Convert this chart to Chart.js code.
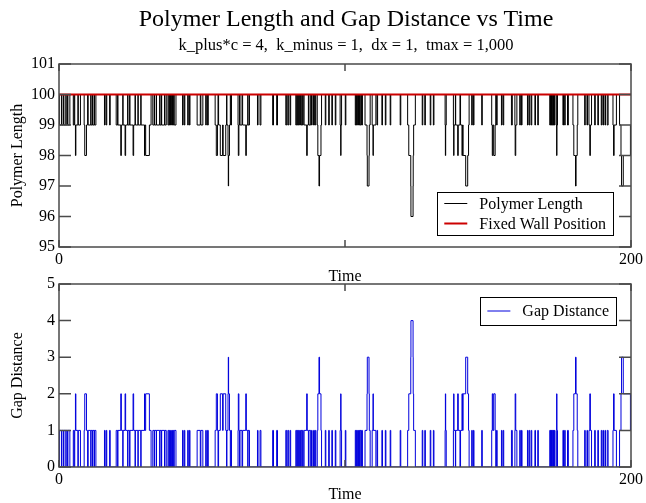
<!DOCTYPE html>
<html><head><meta charset="utf-8">
<script src="https://cdn.jsdelivr.net/npm/chart.js@4"></script>
<style>
html,body{margin:0;padding:0;background:#fff;width:646px;height:503px;overflow:hidden}
body{position:relative;font-family:"Liberation Serif","Times New Roman",Times,serif;color:#000}
#c1{position:absolute;left:0;top:0}
#c2{position:absolute;left:0;top:270px}
.ttl{position:absolute;left:59px;width:574px;text-align:center;white-space:pre}
#title{top:4px;font-size:24px;line-height:28px}
#subtitle{top:35px;font-size:16.5px;line-height:20px}
</style></head><body>
<canvas id="c1" width="646" height="290"></canvas>
<canvas id="c2" width="646" height="236"></canvas>
<div class="ttl" id="title"></div>
<div class="ttl" id="subtitle"></div>
<script>
// ---- data ----
const chartTitle = 'Polymer Length and Gap Distance vs Time';
const chartSubtitle = 'k_plus*c = 4,  k_minus = 1,  dx = 1,  tmax = 1,000';
const eventTimes = [0,0.2,0.9,1.0,1.6,1.7,2.4,2.5,3.0,3.1,3.8,
 5.0,5.3,5.5,5.75,5.9,6.6,6.75,7.5,
 8.8,9.0,9.6,10.0,10.2,11.1,11.2,11.7,11.8,12.3,12.4,12.9,
 15.9,16.1,16.5,16.7,17.7,17.9,
 20.0,20.5,20.6,21.6,21.8,22.3,22.4,23.1,23.3,24.0,24.1,24.7,24.8,25.9,26.1,26.6,26.7,27.6,27.7,28.6,28.7,29.9,30.0,30.3,31.6,32.2,
 32.8,33.3,33.4,34.0,34.1,35.2,35.3,35.8,35.9,36.9,37.0,37.5,
 38.1,38.4,38.6,38.8,39.0,39.3,39.5,39.7,39.9,40.1,40.3,40.9,
 43.2,43.4,43.8,44.0,45.0,45.2,45.6,45.8,
 48.3,49.4,49.6,50.3,51.3,51.5,51.9,52.2,
 54.6,55.0,55.4,55.6,55.8,56.4,57.2,57.4,58.3,58.6,58.7,59.1,59.2,59.3,59.6,59.9,60.1,60.3,
 62.6,62.7,62.9,63.1,63.3,64.0,64.2,65.3,65.5,66.0,66.1,66.6,
 69.4,69.6,70.3,70.6,
 74.7,75.0,76.1,76.4,
 79.3,79.6,80.0,80.3,80.8,81.0,
 82.8,83.1,83.3,83.5,83.7,84.0,84.2,84.4,84.6,84.9,85.1,85.4,85.7,86.6,86.8,87.2,87.4,88.0,88.3,88.5,89.0,89.3,89.6,89.8,
 90.3,90.5,90.9,91.1,91.6,91.8,
 93.1,93.3,94.3,94.5,95.4,95.6,96.6,96.8,
 98.3,98.5,98.6,98.8,
 100.1,100.3,
 103.6,103.8,104.0,104.3,104.5,104.7,104.9,105.1,105.3,105.6,105.8,106.1,
 107.0,107.7,107.8,108.4,108.5,108.8,
 109.5,109.8,109.9,110.8,
 111.2,111.4,112.9,113.1,114.1,114.3,115.8,116.0,119.3,119.5,
 121.9,122.3,123.0,123.05,123.8,123.85,124.0,124.6,
 127.0,127.2,127.9,128.1,
 129.8,130.0,130.9,131.1,
 135.0,135.1,135.2,135.4,
 137.9,138.0,138.1,138.6,
 138.7,139.4,139.6,140.2,
 140.4,140.9,141.1,141.3,142.2,142.9,143.2,143.4,
 144.3,144.5,144.9,145.1,
 147.8,148.0,
 151.3,151.5,151.7,152.0,152.5,152.7,
 153.0,153.2,
 154.7,154.9,155.3,155.5,
 158.2,158.5,
 159.4,159.5,159.7,160.1,
 161.1,161.3,161.7,161.9,
 163.8,164.0,164.4,164.6,165.1,165.3,
 166.4,166.6,167.4,167.6,
 171.6,171.8,171.9,172.1,172.2,172.4,172.5,172.8,172.9,173.1,173.2,173.4,
 173.9,174.0,174.1,174.3,
 176.2,176.4,176.8,177.0,177.8,178.1,
 179.7,180.0,180.6,180.8,181.2,181.4,
 183.8,184.0,184.6,184.8,
 185.3,185.6,185.8,186.2,
 187.3,187.5,188.4,188.6,
 189.6,189.8,190.2,190.4,190.9,191.1,191.7,192.0,
 193.7,193.9,194.1,194.9,
 196.0,196.5,196.7,197.3,199.8,200];
const gapDistance = [0,1,0,1,0,1,0,1,0,1,0,
 1,0,1,2,1,0,1,0,
 1,2,1,0,1,0,1,0,1,0,1,0,
 1,0,1,0,1,0,
 1,0,1,2,1,0,1,2,1,0,1,0,1,2,1,0,1,0,1,0,1,2,1,2,1,0,
 1,0,1,0,1,0,1,0,1,0,1,0,
 1,0,1,0,1,0,1,0,1,0,1,0,
 1,0,1,0,1,0,1,0,
 1,0,1,0,1,0,1,0,
 1,2,1,0,1,2,1,2,1,0,1,2,3,2,1,0,1,0,
 1,2,1,0,1,0,1,2,1,0,1,0,
 1,0,1,0,
 1,0,1,0,
 1,0,1,0,1,0,
 1,0,1,0,1,0,1,0,1,0,1,0,1,2,1,0,1,0,1,0,1,0,1,0,
 1,2,3,2,1,0,
 1,0,1,0,1,0,1,0,
 1,2,1,0,
 1,0,
 1,0,1,0,1,0,1,0,1,0,1,0,
 1,2,3,2,1,0,
 1,2,1,0,
 1,0,1,0,1,0,1,0,1,0,
 1,2,3,4,3,2,1,0,
 1,0,1,0,
 1,0,1,0,
 1,2,1,0,
 1,2,1,0,
 1,2,1,0,
 1,2,1,2,3,2,1,0,
 1,0,1,0,
 1,0,
 1,2,1,2,1,0,
 1,0,
 1,0,1,0,
 1,0,
 1,2,1,0,
 1,0,1,0,
 1,0,1,0,1,0,
 1,0,1,0,
 1,0,1,0,1,0,1,0,1,0,1,0,
 1,2,1,0,
 1,0,1,0,1,0,
 1,2,3,2,1,0,
 1,0,1,0,
 1,2,1,0,
 1,0,1,0,
 1,0,1,0,1,0,1,0,
 1,2,1,0,
 1,2,3,2,1,1];
const polymerLength = [100,99,100,99,100,99,100,99,100,99,100,
 99,100,99,98,99,100,99,100,
 99,98,99,100,99,100,99,100,99,100,99,100,
 99,100,99,100,99,100,
 99,100,99,98,99,100,99,98,99,100,99,100,99,98,99,100,99,100,99,100,99,98,99,98,99,100,
 99,100,99,100,99,100,99,100,99,100,99,100,
 99,100,99,100,99,100,99,100,99,100,99,100,
 99,100,99,100,99,100,99,100,
 99,100,99,100,99,100,99,100,
 99,98,99,100,99,98,99,98,99,100,99,98,97,98,99,100,99,100,
 99,98,99,100,99,100,99,98,99,100,99,100,
 99,100,99,100,
 99,100,99,100,
 99,100,99,100,99,100,
 99,100,99,100,99,100,99,100,99,100,99,100,99,98,99,100,99,100,99,100,99,100,99,100,
 99,98,97,98,99,100,
 99,100,99,100,99,100,99,100,
 99,98,99,100,
 99,100,
 99,100,99,100,99,100,99,100,99,100,99,100,
 99,98,97,98,99,100,
 99,98,99,100,
 99,100,99,100,99,100,99,100,99,100,
 99,98,97,96,97,98,99,100,
 99,100,99,100,
 99,100,99,100,
 99,98,99,100,
 99,98,99,100,
 99,98,99,100,
 99,98,99,98,97,98,99,100,
 99,100,99,100,
 99,100,
 99,98,99,98,99,100,
 99,100,
 99,100,99,100,
 99,100,
 99,98,99,100,
 99,100,99,100,
 99,100,99,100,99,100,
 99,100,99,100,
 99,100,99,100,99,100,99,100,99,100,99,100,
 99,98,99,100,
 99,100,99,100,99,100,
 99,98,97,98,99,100,
 99,100,99,100,
 99,98,99,100,
 99,100,99,100,
 99,100,99,100,99,100,99,100,
 99,98,99,100,
 99,98,97,98,99,99];
const wallTimes = [0, 200];
const wallPosition = [100, 100];
const xTickValues = [0, 100, 200];
const xTickLabels = [0, 200];
const topYTicks = [95, 96, 97, 98, 99, 100, 101];
const bottomYTicks = [0, 1, 2, 3, 4, 5];

// ---- drawing ----
document.getElementById('title').textContent = chartTitle;
document.getElementById('subtitle').textContent = chartSubtitle;

const SERIF = '"Liberation Serif", "Times New Roman", Times, serif';
Chart.defaults.font.family = SERIF;
Chart.defaults.color = '#000';

const pts = (xs, ys) => xs.map((x, i) => ({x, y: ys[i]}));

const framePlugin = {
  id: 'frameTicks',
  afterDatasetsDraw(chart) {
    const {ctx, chartArea: a, scales: {x, y}} = chart;
    ctx.save();
    ctx.strokeStyle = '#4a4a4a';
    ctx.lineWidth = 1.5;
    ctx.beginPath();
    y.ticks.forEach(t => {
      const py = y.getPixelForValue(t.value);
      ctx.moveTo(a.left, py); ctx.lineTo(a.left + 12, py);
      ctx.moveTo(a.right, py); ctx.lineTo(a.right - 12, py);
    });
    x.ticks.forEach(t => {
      const px = x.getPixelForValue(t.value);
      ctx.moveTo(px, a.top); ctx.lineTo(px, a.top + 7);
      ctx.moveTo(px, a.bottom); ctx.lineTo(px, a.bottom - 7);
    });
    ctx.stroke();
    ctx.strokeRect(a.left, a.top, a.width, a.height);
    ctx.restore();
  }
};

const boxLegend = {
  id: 'boxLegend',
  afterDraw(chart, args, o) {
    const {ctx, chartArea: a} = chart;
    const ds = chart.data.datasets;
    ctx.save();
    ctx.font = '16px ' + SERIF;
    let tw = 0;
    ds.forEach(d => tw = Math.max(tw, ctx.measureText(d.label).width));
    const rowH = 20, padX = 7, sample = 23, gapT = 12;
    const w = padX + sample + gapT + tw + padX;
    const h = o.height;
    const padY = (h - ds.length * rowH) / 2;
    const x0 = a.right - o.right - w;
    const y0 = o.top != null ? a.top + o.top : a.bottom - o.bottom - h;
    ctx.fillStyle = '#fff';
    ctx.fillRect(x0, y0, w, h);
    ctx.strokeStyle = '#000';
    ctx.lineWidth = 1;
    ctx.strokeRect(Math.round(x0) + .5, Math.round(y0) + .5, Math.round(w), Math.round(h));
    ds.forEach((d, i) => {
      const cy = y0 + padY + rowH * i + rowH / 2;
      ctx.strokeStyle = d.borderColor;
      ctx.lineWidth = d.borderWidth;
      ctx.beginPath();
      ctx.moveTo(x0 + padX, cy); ctx.lineTo(x0 + padX + sample, cy);
      ctx.stroke();
      ctx.fillStyle = '#000';
      ctx.textBaseline = 'middle';
      ctx.textAlign = 'left';
      ctx.fillText(d.label, x0 + padX + sample + gapT, cy + 1);
    });
    ctx.restore();
  }
};

function xScale(heightFix) {
  return {
    type: 'linear', min: 0, max: 200,
    afterBuildTicks: s => { s.ticks = xTickValues.map(v => ({value: v})); },
    afterFit: s => { s.height = heightFix; },
    ticks: {
      autoSkip: false, maxRotation: 0, padding: 3,
      font: {size: 16},
      callback: v => xTickLabels.includes(v) ? String(v) : ''
    },
    grid: {display: false, drawTicks: false},
    border: {display: false},
    title: {display: true, text: 'Time', font: {size: 16}, padding: {top: 0, bottom: 0}}
  };
}
function yScale(min, max, tickVals, label) {
  return {
    type: 'linear', min, max,
    afterBuildTicks: s => { s.ticks = tickVals.map(v => ({value: v})); },
    afterFit: s => { s.width = 59; },
    ticks: {padding: 4, font: {size: 16}},
    grid: {display: false, drawTicks: false},
    border: {display: false},
    title: {display: true, text: label, font: {size: 16}, padding: {top: 8, bottom: 0}}
  };
}

new Chart(document.getElementById('c1'), {
  type: 'line',
  data: {
    datasets: [
      {label: 'Polymer Length', data: pts(eventTimes, polymerLength), stepped: true,
       borderColor: '#000', borderWidth: 1, pointRadius: 0, order: 2},
      {label: 'Fixed Wall Position', data: pts(wallTimes, wallPosition),
       borderColor: '#cc0000', borderWidth: 2, pointRadius: 0, order: 1}
    ]
  },
  options: {
    responsive: false, animation: false, devicePixelRatio: 1,
    layout: {padding: {left: 0, right: 13, top: 64, bottom: 4}},
    scales: {x: xScale(39), y: yScale(95, 101, topYTicks, 'Polymer Length')},
    plugins: {
      legend: {display: false}, tooltip: {enabled: false},
      boxLegend: {right: 18, bottom: 12, height: 43}
    }
  },
  plugins: [framePlugin, boxLegend]
});

new Chart(document.getElementById('c2'), {
  type: 'line',
  data: {
    datasets: [
      {label: 'Gap Distance', data: pts(eventTimes, gapDistance), stepped: true,
       borderColor: '#0000dd', borderWidth: 1, pointRadius: 0}
    ]
  },
  options: {
    responsive: false, animation: false, devicePixelRatio: 1,
    layout: {padding: {left: 0, right: 13, top: 14, bottom: 2}},
    scales: {x: xScale(37), y: yScale(0, 5, bottomYTicks, 'Gap Distance')},
    plugins: {
      legend: {display: false}, tooltip: {enabled: false},
      boxLegend: {right: 15, top: 13, height: 28}
    }
  },
  plugins: [framePlugin, boxLegend]
});
</script>
</body></html>
